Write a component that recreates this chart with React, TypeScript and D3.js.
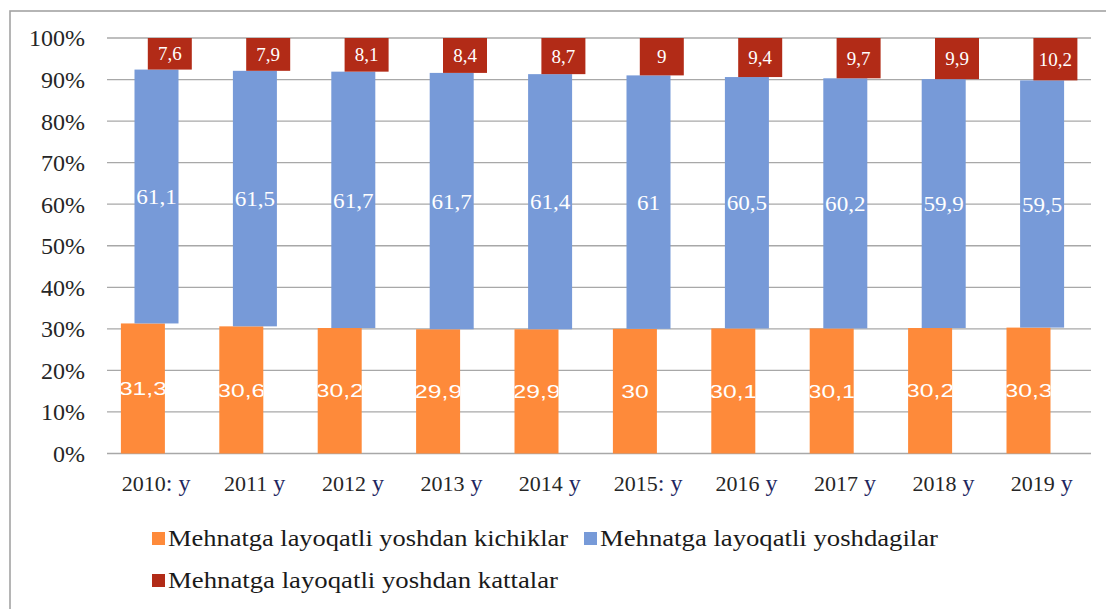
import React from "react";
import * as d3 from "d3";

const years = ["2010", "2011", "2012", "2013", "2014", "2015", "2016", "2017", "2018", "2019"];
const yearSuffix = [": y", " y", " y", " y", " y", ": y", " y", " y", " y", " y"];
const kichiklar = [31.3, 30.6, 30.2, 29.9, 29.9, 30, 30.1, 30.1, 30.2, 30.3];
const yoshdagilar = [61.1, 61.5, 61.7, 61.7, 61.4, 61, 60.5, 60.2, 59.9, 59.5];
const kattalar = [7.6, 7.9, 8.1, 8.4, 8.7, 9, 9.4, 9.7, 9.9, 10.2];
const yTicks = [0, 10, 20, 30, 40, 50, 60, 70, 80, 90, 100];
const seriesNames = [
  "Mehnatga layoqatli yoshdan kichiklar",
  "Mehnatga layoqatli yoshdagilar",
  "Mehnatga layoqatli yoshdan kattalar",
];
const keys = ["kichiklar", "yoshdagilar", "kattalar"];
const colors = ["#fe8a3a", "#779ad8", "#b22b17"];

const SERIF = "Liberation Serif, Times New Roman, Times, serif";
const SANS = "Liberation Sans, Arial, Helvetica, sans-serif";

export default function App() {
  const W = 1106;
  const H = 609;
  const x = d3.scaleBand().domain(years).range([107, 1091]).padding(0);
  const y = d3.scaleLinear().domain([0, 100]).range([453.5, 38]);
  const barW = 44;
  const offsets = [-13.3, 0.3, 13.6];
  const fmt = (v: number) => String(v).replace(".", ",");

  const rows = years.map((yr, i) => ({
    year: yr,
    kichiklar: kichiklar[i],
    yoshdagilar: yoshdagilar[i],
    kattalar: kattalar[i],
  }));
  const stacked = d3.stack<any>().keys(keys)(rows);

  const labelStyle = [
    { font: SANS, size: 19, sx: 1.3 },
    { font: SERIF, size: 22, sx: 1.05 },
    { font: SERIF, size: 19, sx: 1.0 },
  ];

  return (
    <svg
      width={W}
      height={H}
      style={{ position: "fixed", left: 0, top: 0, background: "#fff" }}
    >
      <rect x={0} y={0} width={W} height={H} fill="#fff" />
      <rect x={10} y={11} width={W + 20} height={H + 20} fill="none" stroke="#a3a3a3" strokeWidth={1.6} />
      {yTicks.map((t) => (
        <line key={t} x1={107} x2={1091} y1={y(t)} y2={y(t)} stroke="#a8a8a8" strokeWidth={1.3} />
      ))}
      {yTicks.map((t) => (
        <text
          key={"yl" + t}
          x={85}
          y={y(t)}
          dy="0.35em"
          textAnchor="end"
          style={{ fontFamily: SERIF }}
          fontSize={24}
          fill="#262626"
        >
          {t + "%"}
        </text>
      ))}
      <defs>
        {stacked[0].map((d: any, i: number) => {
          const cx = (x(years[i]) as number) + x.bandwidth() / 2 + offsets[0];
          return (
            <clipPath key={"clip" + i} id={"clip-o-" + i}>
              <rect x={cx - barW / 2} y={y(d[1])} width={barW} height={y(d[0]) - y(d[1])} />
            </clipPath>
          );
        })}
      </defs>
      {stacked.map((s: any, si: number) => (
        <g key={keys[si]}>
          {s.map((d: any, i: number) => {
            const cx = (x(years[i]) as number) + x.bandwidth() / 2 + offsets[si];
            return (
              <rect
                key={i}
                x={cx - barW / 2}
                y={y(d[1])}
                width={barW}
                height={y(d[0]) - y(d[1])}
                fill={colors[si]}
              />
            );
          })}
        </g>
      ))}
      {stacked.map((s: any, si: number) => (
        <g key={"lab" + keys[si]}>
          {s.map((d: any, i: number) => {
            const cx = (x(years[i]) as number) + x.bandwidth() / 2 + offsets[si];
            const cy = (y(d[0]) + y(d[1])) / 2;
            const st = labelStyle[si];
            const v = (d.data as any)[keys[si]];
            return (
              <g key={i} clipPath={si === 0 ? `url(#clip-o-${i})` : undefined}>
                <text
                  transform={`translate(${cx},${cy}) scale(${st.sx},1)`}
                  dy="0.35em"
                  textAnchor="middle"
                  style={{ fontFamily: st.font }}
                  fontSize={st.size}
                  fill="#ffffff"
                >
                  {fmt(v)}
                </text>
              </g>
            );
          })}
        </g>
      ))}
      {years.map((yr, i) => (
        <text
          key={"xl" + yr}
          x={(x(yr) as number) + x.bandwidth() / 2}
          y={491}
          textAnchor="middle"
          style={{ fontFamily: SERIF }}
          fontSize={22}
          fill="#262626"
        >
          {yr}
          <tspan fill="#1e2660" fontSize={24}>{yearSuffix[i]}</tspan>
        </text>
      ))}
      {[
        { sx: 152, ty: 546, tx: 168, len: 400 },
        { sx: 584, ty: 546, tx: 600, len: 338 },
        { sx: 152, ty: 588, tx: 168, len: 390 },
      ].map((l, i) => (
        <g key={"leg" + i}>
          <rect x={l.sx} y={l.ty - 14} width={13} height={13} fill={colors[i]} />
          <text
            x={l.tx}
            y={l.ty}
            style={{ fontFamily: SERIF }}
            fontSize={24}
            fill="#1a1a1a"
            textLength={l.len}
            lengthAdjust="spacingAndGlyphs"
          >
            {seriesNames[i]}
          </text>
        </g>
      ))}
    </svg>
  );
}
